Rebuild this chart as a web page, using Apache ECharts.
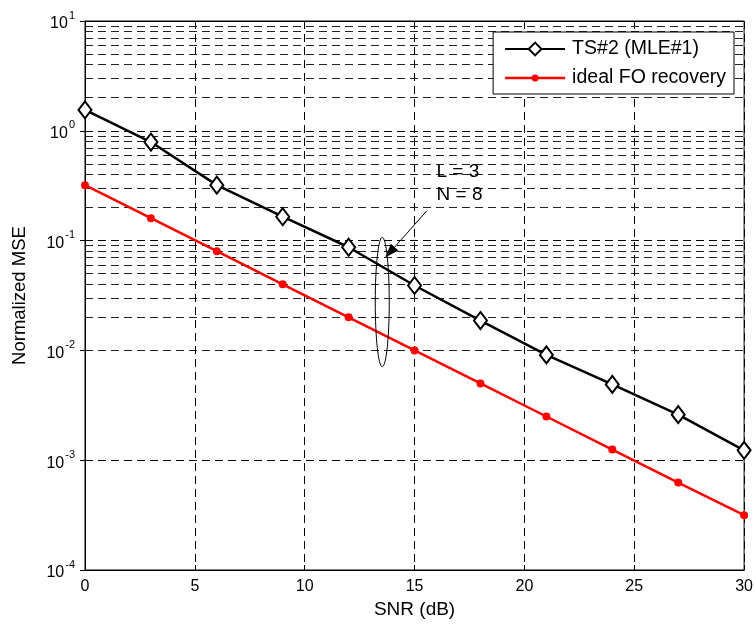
<!DOCTYPE html>
<html>
<head>
<meta charset="utf-8">
<script src="https://cdn.jsdelivr.net/npm/echarts@6/dist/echarts.min.js"></script>
<style>
  html, body { margin: 0; padding: 0; background: #fff; }
  #chart { width: 756px; height: 628px; }
</style>
</head>
<body>
<div id="chart"></div>
<script>
// SNR points (dB)
const snr = [0, 3, 6, 9, 12, 15, 18, 21, 24, 27, 30];
// TS#2 (MLE#1)
const mseTs2 = [1.55, 0.79, 0.32, 0.165, 0.087, 0.039, 0.0187, 0.0091, 0.0049, 0.0026, 0.00123];
// ideal FO recovery
const mseIdeal = [0.32, 0.16, 0.08, 0.04, 0.02, 0.01, 0.005, 0.0025, 0.00125, 0.000625, 0.000316];
const seriesNames = ["TS#2 (MLE#1)", "ideal FO recovery"];

const font = "'Liberation Sans', Arial, sans-serif";
const dash = [8, 5];

// minor grid lines at 2..9 x 10^k
const minorLines = [];
for (let k = -4; k < 1; k++) {
  for (let m = 2; m <= 9; m++) {
    minorLines.push({ yAxis: m * Math.pow(10, k) });
  }
}

const chart = echarts.init(document.getElementById("chart"));

const plainAxis = {
  axisLine: { show: true, lineStyle: { color: "#000" } },
  axisTick: { show: true, inside: true, length: 5, lineStyle: { color: "#000" } },
  axisLabel: { show: false },
  splitLine: { show: false },
};

// legend icon for the red series: line with a small dot (box 60x16)
const dotLineIcon =
  "path://M0,0 M60,16 M0,6.7 L60,6.7 L60,9.3 L0,9.3 Z " +
  "M26.5,8 A3.5,3.5 0 1,1 33.5,8 A3.5,3.5 0 1,1 26.5,8 Z";

const option = {
  animation: false,
  backgroundColor: "#fff",
  textStyle: { fontFamily: font },
  grid: {
    left: 85,
    right: 6,
    top: 21,
    bottom: 58,
    show: true,
    borderColor: "#000",
    borderWidth: 1,
  },
  legend: {
    right: 22,
    top: 32,
    orient: "vertical",
    backgroundColor: "#fff",
    borderColor: "#000",
    borderWidth: 1,
    borderRadius: 0,
    padding: [7, 8, 6, 11],
    itemGap: 9,
    itemWidth: 60,
    itemHeight: 16,
    textStyle: { fontFamily: font, fontSize: 19.5, color: "#000", padding: [0, 0, 0, 2] },
    data: [
      { name: seriesNames[0] },
      { name: seriesNames[1], icon: dotLineIcon, itemStyle: { color: "#ff0000" } },
    ],
  },
  xAxis: [
    {
      type: "value",
      min: 0,
      max: 30,
      interval: 5,
      name: "SNR (dB)",
      nameLocation: "middle",
      nameGap: 25,
      nameTextStyle: { fontFamily: font, fontSize: 19, color: "#000" },
      axisLine: { show: true, lineStyle: { color: "#000" } },
      axisTick: { show: true, inside: true, length: 5, lineStyle: { color: "#000" } },
      axisLabel: { fontFamily: font, fontSize: 16, color: "#000", margin: 9 },
      splitLine: { show: true, lineStyle: { color: "#000", type: dash, width: 1 } },
    },
    Object.assign({ type: "value", position: "top", min: 0, max: 30, interval: 5 }, plainAxis),
  ],
  yAxis: [
    {
      type: "log",
      logBase: 10,
      min: 1e-4,
      max: 10,
      name: "Normalized MSE",
      nameLocation: "middle",
      nameGap: 56,
      nameTextStyle: { fontFamily: font, fontSize: 18.5, color: "#000" },
      axisLine: { show: true, lineStyle: { color: "#000" } },
      axisTick: { show: true, inside: true, length: 5, lineStyle: { color: "#000" } },
      axisLabel: {
        margin: 10,
        formatter: function (v) {
          const e = Math.round(Math.log10(v));
          return "{b|10}{e|" + e + "}";
        },
        rich: {
          b: { fontFamily: font, fontSize: 16, color: "#000", verticalAlign: "bottom", padding: [6, 0, 0, 0] },
          e: { fontFamily: font, fontSize: 11, color: "#000", verticalAlign: "top", padding: [0, 0, 8, 1] },
        },
      },
      splitLine: { show: true, lineStyle: { color: "#000", type: dash, width: 1 } },
    },
    Object.assign({ type: "log", logBase: 10, position: "right", min: 1e-4, max: 10 }, plainAxis),
  ],
  series: [
    {
      name: seriesNames[0],
      type: "line",
      data: snr.map((x, i) => [x, mseTs2[i]]),
      symbol: "diamond",
      symbolSize: [13, 17],
      showAllSymbol: true,
      lineStyle: { color: "#000", width: 2.5 },
      itemStyle: { color: "#fff", borderColor: "#000", borderWidth: 2 },
      z: 4,
      markLine: {
        silent: true,
        symbol: "none",
        label: { show: false },
        animation: false,
        lineStyle: { color: "#222", type: dash, width: 1 },
        data: minorLines,
        z: 1,
      },
    },
    {
      name: seriesNames[1],
      type: "line",
      data: snr.map((x, i) => [x, mseIdeal[i]]),
      symbol: "circle",
      symbolSize: 8,
      showAllSymbol: true,
      lineStyle: { color: "#ff0000", width: 2.5 },
      itemStyle: { color: "#ff0000" },
      z: 3,
    },
  ],
};

chart.setOption(option);

// annotation: ellipse around both curves near SNR 13.5, arrow and parameter text
const toPx = (p) => chart.convertToPixel({ xAxisIndex: 0, yAxisIndex: 0 }, p);
const ellTop = toPx([13.53, 0.107]);
const ellBot = toPx([13.53, 0.0071]);
const tip = toPx([13.67, 0.07]);
const tail = toPx([15.56, 0.187]);
const txt = toPx([16.0, 0.54]);
const ang = Math.atan2(tip[1] - tail[1], tip[0] - tail[0]);
const ah = 14, aw = 5;
const bx = tip[0] - ah * Math.cos(ang), by = tip[1] - ah * Math.sin(ang);
const px = -Math.sin(ang) * aw, py = Math.cos(ang) * aw;

chart.setOption({
  graphic: [
    {
      type: "ellipse",
      shape: { cx: ellTop[0], cy: (ellTop[1] + ellBot[1]) / 2, rx: 7, ry: (ellBot[1] - ellTop[1]) / 2 },
      style: { fill: "none", stroke: "#000", lineWidth: 1 },
      z: 10,
    },
    {
      type: "line",
      shape: { x1: tail[0], y1: tail[1], x2: bx, y2: by },
      style: { stroke: "#000", lineWidth: 1 },
      z: 10,
    },
    {
      type: "polygon",
      shape: { points: [[tip[0], tip[1]], [bx + px, by + py], [bx - px, by - py]] },
      style: { fill: "#000" },
      z: 10,
    },
    {
      type: "text",
      x: txt[0],
      y: txt[1],
      style: { text: "L = 3\nN = 8", fontFamily: font, fontSize: 19, fill: "#000", lineHeight: 23 },
      z: 10,
    },
  ],
});
</script>
</body>
</html>
